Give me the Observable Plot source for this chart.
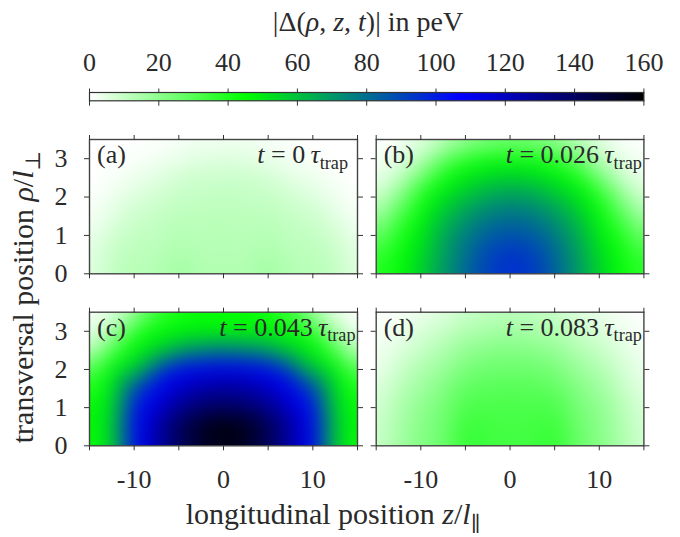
<!DOCTYPE html>
<html><head><meta charset="utf-8">
<script src="https://cdn.jsdelivr.net/npm/d3@7"></script>
<script src="https://cdn.jsdelivr.net/npm/@observablehq/plot@0.6"></script>
<style>
html,body{margin:0;padding:0;background:#fff;}
#chart{position:relative;width:680px;height:537px;overflow:hidden;background:#fff;}
#chart svg{position:absolute;left:0;top:0;}
</style></head><body><div id="chart"></div>
<script>
// ---------- data ----------
const zValues   = [-15, -12.5, -10, -7.5, -5, -2.5, 0, 2.5, 5, 7.5, 10, 12.5, 15];
const rhoValues = [0, 0.5, 1, 1.5, 2, 2.5, 3, 3.5];

// |Delta| in peV, rows = rhoValues, columns = zValues
const deltaA = [ // t = 0
  [5, 11, 13, 13, 17, 14, 14, 14, 17, 13, 13, 11, 5],
  [4, 10, 12, 12, 15, 13, 13, 13, 15, 12, 12, 10, 4],
  [3, 8, 11, 11, 13, 12, 13, 12, 13, 11, 11, 8, 3],
  [1, 5, 9, 10, 12, 12, 12, 12, 12, 10, 9, 5, 1],
  [0, 3, 6, 8, 10, 10, 11, 10, 10, 8, 6, 3, 0],
  [0, 1, 3, 5, 8, 9, 9, 9, 8, 5, 3, 1, 0],
  [0, 0, 1, 2, 4, 5, 6, 5, 4, 2, 1, 0, 0],
  [0, 0, 0, 0, 1, 2, 2, 2, 1, 0, 0, 0, 0]
];
const deltaB = [ // t = 0.026
  [38, 44, 56, 70, 82, 92, 96, 93, 84, 71, 56, 44, 37],
  [35, 43, 54, 68, 80, 90, 95, 92, 82, 69, 54, 43, 34],
  [26, 39, 50, 66, 76, 84, 87, 85, 77, 66, 50, 39, 25],
  [16, 31, 46, 60, 70, 77, 80, 78, 71, 60, 46, 31, 15],
  [8, 21, 40, 52, 60, 67, 70, 68, 61, 52, 40, 21, 7],
  [3, 10, 25, 42, 50, 55, 57, 55, 50, 42, 25, 10, 3],
  [1, 4, 12, 27, 37, 42, 43, 42, 37, 27, 12, 4, 1],
  [0, 1, 4, 10, 16, 20, 22, 20, 16, 10, 4, 1, 0]
];
const deltaC = [ // t = 0.043
  [42, 55, 104, 124, 140, 150, 154, 151, 141, 125, 106, 58, 42],
  [44, 56, 105, 125, 142, 154, 160, 156, 144, 127, 107, 58, 44],
  [43, 54, 100, 116, 129, 137, 140, 138, 130, 118, 102, 56, 43],
  [38, 50, 88, 108, 119, 125, 128, 126, 120, 110, 90, 52, 38],
  [28, 46, 58, 88, 105, 110, 112, 111, 106, 90, 60, 47, 28],
  [10, 32, 47, 55, 68, 74, 77, 74, 69, 57, 48, 32, 10],
  [2, 15, 38, 45, 47, 48, 48, 48, 47, 45, 38, 15, 2],
  [0, 3, 14, 32, 40, 43, 43, 43, 40, 32, 14, 3, 0]
];
const deltaD = [ // t = 0.083
  [9, 16, 22, 26, 37, 34, 33, 34, 37, 27, 22, 15, 8],
  [8, 15, 21, 25, 35, 33, 33, 33, 35, 26, 21, 14, 7],
  [7, 14, 20, 24, 32, 32, 32, 32, 32, 24, 20, 13, 6],
  [5, 12, 17, 22, 28, 29, 30, 29, 28, 22, 17, 11, 4],
  [3, 9, 14, 18, 24, 26, 26, 26, 24, 18, 14, 8, 3],
  [2, 6, 10, 14, 19, 21, 22, 21, 19, 14, 10, 6, 2],
  [1, 3, 7, 10, 14, 16, 17, 16, 14, 10, 7, 3, 1],
  [0, 1, 3, 5, 9, 10, 11, 10, 9, 5, 3, 1, 0]
];
const panelTags  = ["(a)", "(b)", "(c)", "(d)"];
const panelTimes = ["0", "0.026", "0.043", "0.083"];
const colorTicks = [0, 20, 40, 60, 80, 100, 120, 140, 160];
const xTicks = [-15, -10, -5, 0, 5, 10, 15];
const xTickLabels = [-10, 0, 10];
const yTicks = [0, 1, 2, 3];

// ---------- layout & style ----------
const W = 680, H = 537;
const FONT = "Liberation Serif, DejaVu Serif, serif";
const INK = "#2a2a2a";
const cols = [[89, 357], [375.7, 643.4]];
const rows = [[139, 273.3], [311.7, 445.3]];
const colorSpec = {
  type: "linear", domain: [0, 45, 107, 160],
  range: ["#ffffff", "#00ff00", "#0000ff", "#000000"],
  interpolate: "rgb", clamp: true
};
const root = document.getElementById("chart");

function panel(values, idx) {
  const col = idx % 2, row = Math.floor(idx / 2);
  const [L, R] = cols[col], [T, B] = rows[row];
  const data = [];
  rhoValues.forEach((r, i) => zValues.forEach((z, j) => data.push({z, rho: r, v: values[i][j]})));
  const tickOpts = {ticks: xTicks, tickSize: 5, fill: "none", label: null, stroke: "#333"};
  const ytickOpts = {ticks: yTicks, tickSize: 5, fill: "none", label: null, stroke: "#333"};
  return Plot.plot({
    width: W, height: H,
    marginLeft: L, marginRight: W - R, marginTop: T, marginBottom: H - B,
    style: {background: "transparent", fontFamily: FONT, fontSize: "26px", color: INK},
    x: {domain: [-15, 15]},
    y: {domain: [0, 3.5]},
    color: colorSpec,
    marks: [
      Plot.raster(data, {x: "z", y: "rho", fill: "v", interpolate: "barycentric", blur: 9,
                         x1: -15, x2: 15, y1: 0, y2: 3.5}),
      Plot.frame({stroke: "#444", strokeWidth: 1.4}),
      Plot.axisX({anchor: "bottom", ...tickOpts}),
      Plot.axisX({anchor: "top", ...tickOpts}),
      Plot.axisY({anchor: "left", ...ytickOpts}),
      Plot.axisY({anchor: "right", ...ytickOpts}),
      row === 1 ? Plot.axisX({anchor: "bottom", ticks: xTickLabels, tickSize: 0, tickPadding: 24,
                              tickFormat: d => String(d), label: null, fontSize: 26, fill: INK}) : null,
      col === 0 ? Plot.axisY({anchor: "left", ticks: yTicks, tickSize: 0, tickPadding: 22,
                              tickFormat: d => String(d), label: null, fontSize: 26, fill: INK}) : null
    ]
  });
}

[deltaA, deltaB, deltaC, deltaD].forEach((v, i) => root.appendChild(panel(v, i)));

// colour bar
const bar = Plot.plot({
  width: W, height: H,
  marginLeft: 89, marginRight: W - 643.4, marginTop: 92, marginBottom: H - 100.3,
  style: {background: "transparent", fontFamily: FONT, fontSize: "26px", color: INK},
  x: {domain: [0, 160]},
  y: {domain: [0, 1], axis: null},
  color: colorSpec,
  marks: [
    Plot.raster({fill: (x, y) => x, x1: 0, x2: 160, y1: 0, y2: 1}),
    Plot.frame({stroke: "#333", strokeWidth: 1.2}),
    Plot.axisX({anchor: "top", ticks: colorTicks, tickSize: 4.5, tickPadding: 17.5,
                tickFormat: d => String(d), label: null, fontSize: 26, stroke: "#333", fill: INK}),
    Plot.axisX({anchor: "bottom", ticks: colorTicks, tickSize: 5.4, fill: "none", label: null, stroke: "#333"})
  ]
});
root.appendChild(bar);

// ---------- texts ----------
const svg = d3.select(root).append("svg").attr("width", W).attr("height", H)
  .attr("font-family", FONT).attr("fill", INK);

function addText(x, y, parts, {anchor = "middle", size = 26, rotate = 0} = {}) {
  const t = svg.append("text").attr("text-anchor", anchor).attr("font-size", size)
    .attr("transform", `translate(${x},${y})` + (rotate ? ` rotate(${rotate})` : ""));
  for (const p of parts) {
    const s = t.append("tspan").text(p.t);
    if (p.i) s.attr("font-style", "italic");
    if (p.sub) s.attr("font-size", size * 0.7).attr("dy", size * 0.22);
  }
  return t;
}

addText(368, 31, [{t: "|Δ("}, {t: "ρ", i: 1}, {t: ", "}, {t: "z", i: 1}, {t: ", "}, {t: "t", i: 1},
                  {t: ")| in peV"}], {size: 28});
addText(333, 524, [{t: "longitudinal position "}, {t: "z", i: 1}, {t: "/"}, {t: "l", i: 1}, {t: "∥", sub: 1}],
        {size: 30});
addText(33, 297, [{t: "transversal position "}, {t: "ρ", i: 1}, {t: "/"}, {t: "l", i: 1}, {t: "⊥", sub: 1}],
        {size: 30, rotate: -90});

const rightPad = [9, 1.5, 1.5, 1.5];
panelTags.forEach((tag, i) => {
  const col = i % 2, row = Math.floor(i / 2);
  const [L, R] = cols[col], [T] = rows[row];
  addText(L + 8, T + 24, [{t: tag}], {anchor: "start", size: 26});
  addText(R - rightPad[i], T + 24,
    [{t: "t", i: 1}, {t: " = " + panelTimes[i] + "\u2009"}, {t: "τ", i: 1}, {t: "trap", sub: 1}],
    {anchor: "end", size: 26});
});
</script></body></html>
